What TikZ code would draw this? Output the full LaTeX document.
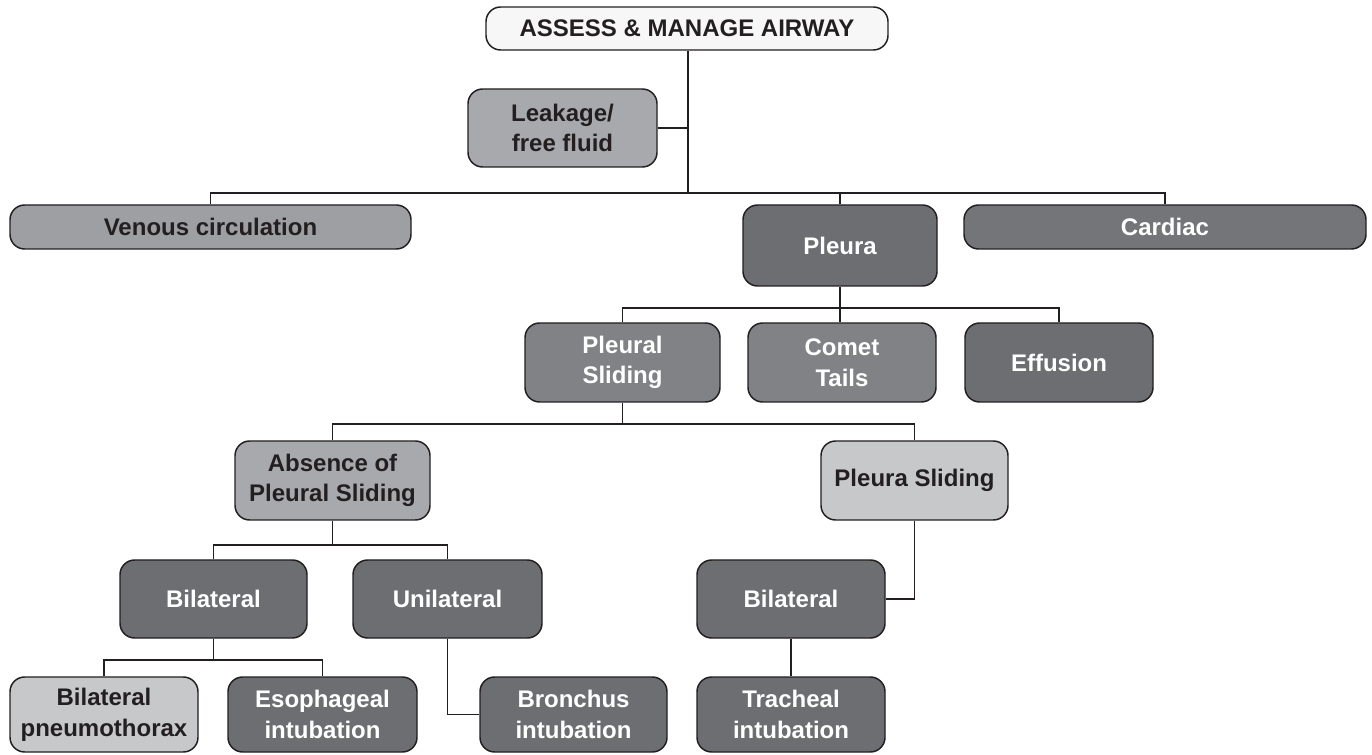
\documentclass[tikz,border=0pt]{standalone}
\usepackage{fontspec}
\setmainfont{Liberation Sans}
\definecolor{inkc}{HTML}{231F20}
\definecolor{topc}{HTML}{F7F7F7}
\definecolor{midc}{HTML}{A7A9AC}
\definecolor{venc}{HTML}{9D9FA2}
\definecolor{lightc}{HTML}{C7C8CA}
\definecolor{darkc}{HTML}{6D6E71}
\definecolor{cardc}{HTML}{747578}
\definecolor{greyc}{HTML}{808285}
\begin{document}
\begin{tikzpicture}[x=0.75pt,y=-0.75pt,
  box/.style={draw=inkc, line width=1.1pt, rounded corners=11pt, inner sep=0pt,
    align=center, font=\fontsize{18}{23}\selectfont\bfseries},
  sz/.style 2 args={minimum width=#1*0.75pt, minimum height=#2*0.75pt},
  blk/.style={box, text=inkc},
  wht/.style={box, text=white},
  link/.style={draw=inkc, line width=1.1pt}]
\useasboundingbox (0,0) rectangle (1372,755);

% boxes
\node[blk, fill=topc, sz={402}{43}] (top) at (687,28.5) {ASSESS \& MANAGE AIRWAY};
\node[blk, fill=midc, sz={189}{78}] (leak) at (562.5,128) {Leakage/\\free fluid};
\node[blk, fill=venc, sz={401}{44}] (venous) at (210.5,227) {Venous circulation};
\node[wht, fill=darkc, sz={194}{81}] (pleura) at (840,245.5) {Pleura};
\node[wht, fill=cardc, sz={402}{44}] (cardiac) at (1165,227) {Cardiac};

\node[wht, fill=greyc, sz={195}{79}] (psl) at (622.5,362.5) {Pleural\\Sliding};
\node[wht, fill=greyc, sz={188}{79}] (comet) at (842,362.5) {Comet\\Tails};
\node[wht, fill=darkc, sz={188}{79}] (effusion) at (1059,362.5) {Effusion};

\node[blk, fill=midc, sz={195}{79}] (absence) at (332.5,480.5) {Absence of\\Pleural Sliding};
\node[blk, fill=lightc, sz={187}{79}] (sliding) at (914.5,480.5) {Pleura Sliding};

\node[wht, fill=darkc, sz={187}{78}] (bilA) at (213.5,599) {Bilateral};
\node[wht, fill=darkc, sz={189}{78}] (uni) at (447.5,599) {Unilateral};
\node[wht, fill=darkc, sz={188}{78}] (bilB) at (791,599) {Bilateral};

\node[blk, fill=lightc, sz={188}{75}] (pneumo) at (104,714.5) {Bilateral\\pneumothorax};
\node[wht, fill=darkc, sz={189}{75}] (eso) at (322.5,714.5) {Esophageal\\intubation};
\node[wht, fill=darkc, sz={187}{75}] (bron) at (573.5,714.5) {Bronchus\\intubation};
\node[wht, fill=darkc, sz={188}{75}] (trach) at (791,714.5) {Tracheal\\intubation};

% junction points of the tree
\coordinate (j1) at (688,193);
\coordinate (j2) at (840,308);
\coordinate (j3) at (622.5,424);
\coordinate (j4) at (332.5,545);
\coordinate (j5) at (213.5,660);

% connectors
\draw[link] (top.south -| j1) -- (j1);
\draw[link] (leak.east) -- (leak.east -| j1);
\draw[link] (venous.north) |- (j1) -| (cardiac.north);
\draw[link] (pleura.north) -- (pleura.north |- j1);

\draw[link] (pleura.south) -- (pleura.south |- comet.north);
\draw[link] (psl.north) |- (j2) -| (effusion.north);

\draw[link] (psl.south) -- (j3);
\draw[link] (absence.north) |- (j3) -| (sliding.north);

\draw[link] (absence.south) -- (j4);
\draw[link] (bilA.north) |- (j4) -| (uni.north);
\draw[link] (sliding.south) |- (bilB.east);

\draw[link] (bilA.south) -- (j5);
\draw[link] (pneumo.north) |- (j5) -| (eso.north);
\draw[link] (uni.south) |- (bron.west);
\draw[link] (bilB.south) -- (trach.north);
\end{tikzpicture}
\end{document}
